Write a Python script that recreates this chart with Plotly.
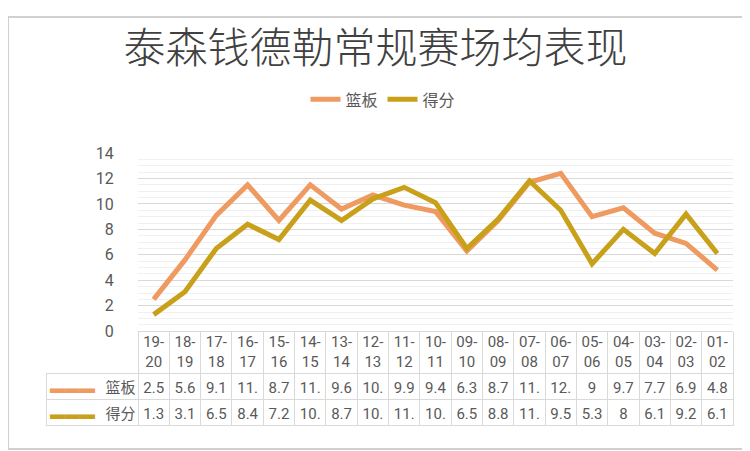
import plotly.graph_objects as go

seasons = ['19-20', '18-19', '17-18', '16-17', '15-16', '14-15', '13-14', '12-13', '11-12', '10-11',
           '09-10', '08-09', '07-08', '06-07', '05-06', '04-05', '03-04', '02-03', '01-02']
rebounds = [2.5, 5.6, 9.1, 11.5, 8.7, 11.5, 9.6, 10.7, 9.9, 9.4,
            6.3, 8.7, 11.7, 12.4, 9.0, 9.7, 7.7, 6.9, 4.8]
points = [1.3, 3.1, 6.5, 8.4, 7.2, 10.3, 8.7, 10.4, 11.3, 10.1,
          6.5, 8.8, 11.8, 9.5, 5.3, 8.0, 6.1, 9.2, 6.1]
names = ['篮板', '得分']

reb_color = '#EE9A60'
pts_color = '#C9A01A'
grey = '#595959'
border = '#d9d9d9'
clear = 'rgba(0,0,0,0)'
W, H = 750, 451


def cut(v):
    # the table cells are too narrow, so the source shows only 3 characters
    return f"{v:g}"[:3]


# two-line labels like the header row of the source table
labels = [s.replace('-', '-<br>') for s in seasons]
n = len(seasons)
tbl_y = [1 - 432 / H, 1 - 372 / H]

fig = go.Figure()
fig.add_trace(go.Scatter(x=labels, y=rebounds, name=names[0], mode='lines',
                         line=dict(color=reb_color, width=5)))
fig.add_trace(go.Scatter(x=labels, y=points, name=names[1], mode='lines',
                         line=dict(color=pts_color, width=5)))

# frame of the legend-key column (one cell per row, keys and names share it)
fig.add_trace(go.Table(
    domain=dict(x=[38 / W, 130 / W], y=tbl_y),
    header=dict(values=[''], height=0, line=dict(width=0), fill=dict(color=clear)),
    cells=dict(values=[['', '']], height=26, fill=dict(color='white'),
               line=dict(color=border, width=1)),
))

# data table under the axis (the axis ticks draw the header row)
fig.add_trace(go.Table(
    domain=dict(x=[38 / W, 725 / W], y=tbl_y),
    columnwidth=[57, 35] + [595 / n] * n,
    header=dict(values=[''] * (n + 2), height=0, line=dict(width=0),
                fill=dict(color=clear)),
    cells=dict(values=[['▬▬▬', '▬▬▬'], names] + [[cut(r), cut(p)] for r, p in zip(rebounds, points)],
               height=26, align=['right', 'center'] + ['center'] * n,
               fill=dict(color=[clear, clear] + ['white'] * n),
               line=dict(color=[clear, clear] + [border] * n, width=1),
               font=dict(family='Roboto, Noto Sans CJK SC', size=15,
                         color=[[reb_color, pts_color]] + [grey] * (n + 1))),
))

fig.update_layout(
    width=W, height=H,
    margin=dict(l=0, r=0, t=0, b=0),
    paper_bgcolor='white', plot_bgcolor='white',
    showlegend=True,
    title=dict(text='泰森钱德勒常规赛场均表现', x=0.49, xanchor='center', y=1 - 40 / H, yanchor='middle',
               font=dict(family='Noto Sans CJK SC', size=42, color='#404040', weight=300)),
    legend=dict(orientation='h', x=0.5, xanchor='center', y=1 - 86 / H, yanchor='middle',
                font=dict(family='Noto Sans CJK SC', size=16, color=grey)),
    xaxis=dict(type='category', domain=[130 / W, 725 / W], range=[-0.5, n - 0.5], showgrid=False,
               showline=True, linecolor=border, linewidth=1,
               tickson='boundaries', ticks='outside', ticklen=44, tickcolor=border, tickwidth=1,
               ticklabelstandoff=-3,
               tickfont=dict(family='Roboto', size=15, color=grey), fixedrange=True),
    yaxis=dict(domain=[1 - 328 / H, 1 - 142 / H], range=[0, 14], dtick=2,
               gridcolor=border, zeroline=False, showline=False,
               ticks='outside', ticklen=20, tickcolor=clear,
               tickfont=dict(family='Roboto', size=16, color=grey),
               minor=dict(dtick=0.5, showgrid=True, gridcolor='#f0f0f0')),
    shapes=[dict(type='rect', xref='paper', yref='paper', x0=0, y0=0, x1=1, y1=1,
                 line=dict(color='#d0d0d0', width=2))],
)

fig.write_html("out.html")
